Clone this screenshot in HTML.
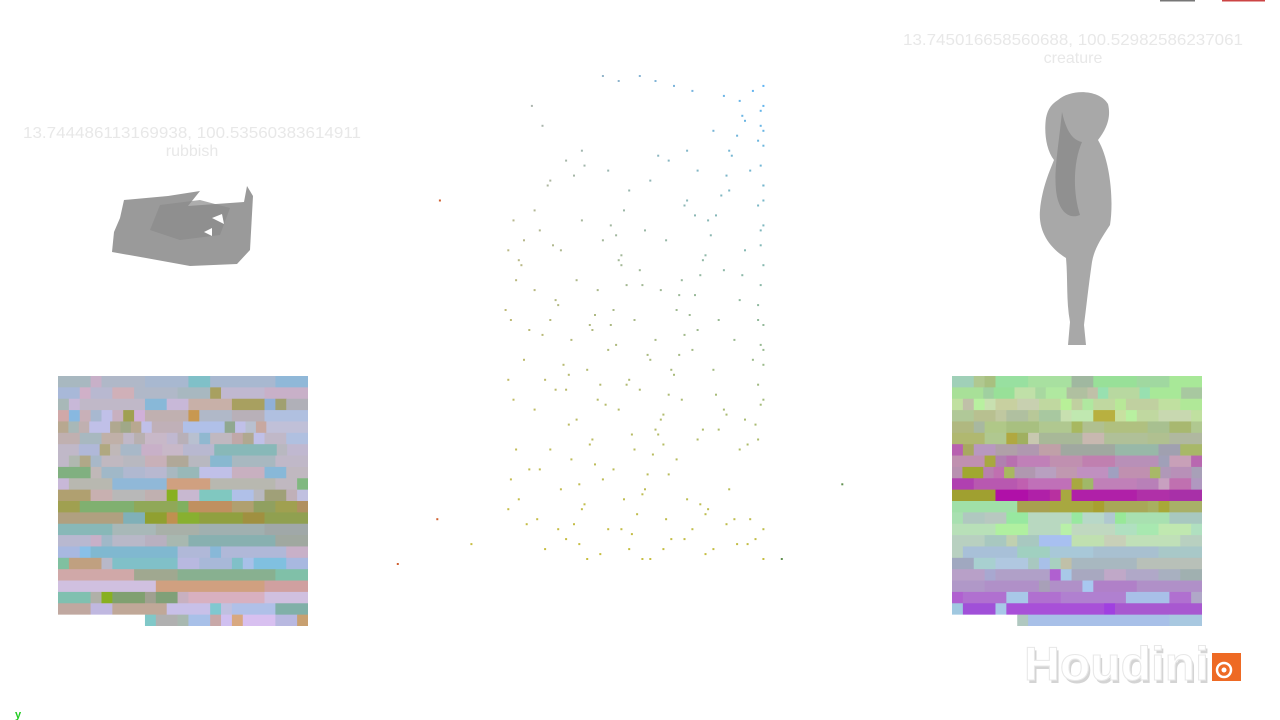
<!DOCTYPE html>
<html><head><meta charset="utf-8"><style>
html,body{margin:0;padding:0;background:#fff;width:1280px;height:720px;overflow:hidden;font-family:"Liberation Sans",sans-serif}
svg{position:absolute;left:0;top:0}
</style></head><body>
<svg width="1280" height="720">
<defs>
<clipPath id="clipL"><rect x="58" y="376" width="250" height="250"/></clipPath>
<clipPath id="clipR"><rect x="952" y="376" width="250" height="250"/></clipPath>
</defs>
<rect x="1160" y="0" width="35" height="1.5" fill="#777"/>
<rect x="1222" y="0" width="43" height="1.5" fill="#c44"/>
<g fill="#e8e8e8" font-size="16" text-anchor="middle">
<text x="192" y="138" textLength="338" lengthAdjust="spacingAndGlyphs">13.744486113169938, 100.53560383614911</text>
<text x="192" y="156">rubbish</text></g>
<g fill="#e8e8e8" font-size="16" text-anchor="middle">
<text x="1073" y="45" textLength="340" lengthAdjust="spacingAndGlyphs">13.745016658560688, 100.52982586237061</text>
<text x="1073" y="63">creature</text></g>
<g>
<polygon points="124,200 168,196 200,191 188,206 244,202 247,186 253,196 250,250 237,264 190,266 146,258 112,252 114,232 120,218" fill="#9a9a9a"/>
<polygon points="160,205 200,200 230,208 220,235 180,240 150,230" fill="#8a8a8a" opacity=".7"/>
<polygon points="212,218 222,214 224,224" fill="#fff"/>
<polygon points="204,232 212,228 212,236" fill="#fff"/>
</g>
<g>
<path d="M1058,100 C1072,88 1100,90 1108,104 C1112,120 1104,132 1098,140 C1110,160 1114,200 1110,225 C1100,240 1094,250 1092,262 C1088,290 1086,310 1084,325 L1086,345 L1068,345 L1070,322 C1066,300 1068,280 1066,258 C1050,248 1038,232 1040,210 C1042,188 1050,170 1054,160 C1046,150 1044,132 1046,118 C1048,108 1052,104 1058,100 Z" fill="#a8a8a8"/>
<path d="M1062,112 C1066,130 1072,140 1082,142 C1074,160 1072,190 1080,215 C1068,220 1058,210 1056,190 C1054,170 1058,150 1062,112Z" fill="#909090"/>
</g>
<g id="left-grid" clip-path="url(#clipL)"></g>
<g id="right-grid" clip-path="url(#clipR)"></g>
<g id="scatter"></g>
<g>
<text x="1024" y="680" font-size="47" font-weight="bold" fill="#d4d4d4" transform="translate(2,3)" textLength="185" lengthAdjust="spacingAndGlyphs">Houdini</text>
<text x="1024" y="680" font-size="47" font-weight="bold" fill="#fff" stroke="#e8e8e8" stroke-width="1" textLength="185" lengthAdjust="spacingAndGlyphs">Houdini</text>
<rect x="1212" y="653" width="29" height="28" fill="#ee6a24"/>
<circle cx="1224" cy="670" r="7" fill="none" stroke="#fff" stroke-width="2.5"/>
<circle cx="1224" cy="670" r="2.5" fill="#fff"/>
</g>
<text x="15" y="718" font-size="11" font-weight="bold" fill="#2c2">y</text>
</svg>
<script>
// Heatmap rows: run-length [color, count], 23 columns per row
const leftRows=[
[["#a8b8c0",3],["#c8b0c8",1],["#b0b8c8",4],["#a8b8d0",4],["#80c0c8",2],["#a8b8d0",6],["#90b8d8",3]],
[["#a8b8d8",2],["#d0b0c8",1],["#b8b8d0",2],["#d0b0b8",2],["#b0b8c8",4],["#a8b8c0",3],["#a8a060",1],["#c0b8d0",4],["#c8b0c8",4]],
[["#a8b8b8",1],["#c8b8d8",1],["#c0b8c8",6],["#88b8d8",2],["#c8b8d8",2],["#c8b0a8",4],["#a8a060",3],["#90b0d8",1],["#a0a070",1],["#b0b0b8",2]],
[["#d0a8a8",1],["#88b8e0",1],["#c8b0b8",1],["#a8b8d0",1],["#c0c0e8",1],["#c8b0c0",1],["#a0a050",1],["#d0b0d8",1],["#c0b0b0",4],["#c89850",1],["#b0b8c8",3],["#b8b0b8",3],["#b0c0e0",4]],
[["#b8a890",1],["#a8b8b8",1],["#c0b0b0",1],["#c0c0e8",2],["#b0a890",1],["#a0a888",1],["#b8a890",1],["#c0c0e8",1],["#c0b0b8",3],["#b0c0e8",4],["#90a890",1],["#c0c0e8",1],["#b8c0d0",1],["#c8a8a0",1],["#c0c0d8",4]],
[["#c0b0b0",2],["#a8b8c0",2],["#c0b0a8",2],["#c0b8c8",1],["#b8b0b0",1],["#c8b8c8",2],["#c0b8d0",1],["#b8b0b8",1],["#b8c0d0",1],["#90b8d0",1],["#c0b8c0",2],["#c0a8a8",1],["#b0a890",1],["#c0c0e8",1],["#c0b8c8",2],["#b0c0e0",2]],
[["#c0b8c8",2],["#b0b8d8",2],["#b0a880",1],["#c0b8b8",1],["#a8b8c8",2],["#c8b0c8",2],["#c8b8c8",2],["#b8b8d0",3],["#88b8b8",6],["#b8b8c0",1],["#c0b8d0",2]],
[["#c0b8c8",1],["#b0b8b0",1],["#b0a888",1],["#a8b8c8",1],["#c0b8c0",2],["#b8b8c0",2],["#c8b0b8",2],["#b0a898",2],["#b8b8c0",2],["#88b8d0",2],["#a8b8c0",4],["#c0b8c8",3]],
[["#80b080",3],["#c0b8b8",1],["#a0b8c8",2],["#b0b8d0",2],["#b8b8d0",2],["#a8b8c0",1],["#98b8b8",2],["#c0c0e8",3],["#c8b0c0",3],["#88b8d8",2],["#c0b8c0",2]],
[["#c8b8d8",1],["#b8b8b0",4],["#90b8d8",5],["#d0a080",4],["#b8b8b0",6],["#c0b8c0",2],["#80b880",1]],
[["#b0a070",3],["#c8b0b0",2],["#b8b8b8",3],["#c0b0b0",2],["#88b020",1],["#c8b8d0",2],["#80c8c0",3],["#b0c0e8",2],["#b8b8c0",1],["#a0a078",2],["#c0b0b8",1],["#c0c0e0",1]],
[["#a0a050",2],["#80b070",5],["#90a858",4],["#80b060",1],["#c09060",4],["#b0a070",2],["#90a060",2],["#a0a050",2],["#b09060",1]],
[["#b0a080",6],["#80b0b8",2],["#90a030",2],["#c09050",1],["#88b030",2],["#90a040",4],["#a09040",2],["#90a050",4]],
[["#88b8b8",5],["#a8b8b8",4],["#a8b0a8",4],["#a0b0b0",6],["#a0a8a8",4]],
[["#b8b8d0",3],["#c8b0c8",1],["#a0b8c8",1],["#b8b8c8",3],["#b8b0c0",2],["#a8b8b0",2],["#88b0b0",8],["#a0a8a0",3]],
[["#a8b8e0",2],["#88c0e8",1],["#80b8d0",8],["#b0b8d8",3],["#88b8d8",1],["#b0b8d8",6],["#c8b0c8",2]],
[["#80c0a0",1],["#c0a080",3],["#b8b8c8",1],["#80c0c8",6],["#b8b8e0",2],["#a8b8d8",3],["#80c0c8",1],["#a8c0e8",1],["#80c0e0",3],["#a8b8e0",2]],
[["#d0a8a8",7],["#a0a890",4],["#88b090",9],["#80c0a8",3]],
[["#d0c0e0",9],["#d0a080",10],["#d0a0a0",4]],
[["#80c0b0",3],["#b0b0a8",1],["#88b020",1],["#80a070",3],["#a0a090",1],["#80a078",2],["#c8b0c0",1],["#d8b0c0",7],["#d0c0e0",4]],
[["#c0a8a0",3],["#c0b8e0",2],["#c0a898",5],["#c8c0e8",4],["#80c8d0",1],["#c0c0e0",1],["#b0c0e8",4],["#80b0a8",3]],
[["#fff",8],["#80c8c8",1],["#b0b0b0",2],["#a8b8b0",1],["#a8c0e8",2],["#c8a8a8",1],["#d0c0f0",1],["#d8a880",1],["#d8c0f0",3],["#b8b8e0",2],["#c8a070",1]]
];
const rightRows=[
[["#a0d0b8",2],["#b0c890",1],["#a8c080",1],["#98e0a0",3],["#a8e0a0",4],["#a0b8a0",2],["#98e098",4],["#a0d8a0",3],["#a8e898",3]],
[["#a8e098",3],["#a0d0a0",1],["#98e098",2],["#c0e0a8",2],["#a8d8a0",1],["#b0e8a0",2],["#b0c0a0",2],["#c0c0a8",1],["#98e0b0",1],["#b8d8a0",3],["#98e0b0",1],["#a8e898",3],["#a8c8a0",2]],
[["#c0e0a0",1],["#c0c0a8",1],["#b8f0a0",1],["#c8e0b0",1],["#c8d0a0",2],["#c8d0b0",2],["#c0d8a0",2],["#b8f098",1],["#c0d0a0",1],["#b0e8a0",1],["#c0d8a0",2],["#b8e898",1],["#c0d0a0",3],["#c0e0a0",2],["#b0e898",2]],
[["#b0c898",2],["#b8c090",2],["#c0c8a0",1],["#b0c0a0",2],["#b8c898",1],["#a8c8a0",2],["#c8e0b0",1],["#c0e8b0",2],["#b8b040",2],["#c8e0a0",1],["#b8f0a0",1],["#c0d8a0",2],["#c8d8b0",3],["#c0e0a0",1]],
[["#b0b880",2],["#a8b8a0",1],["#b0c888",2],["#a8c080",3],["#b0c890",3],["#a8b860",1],["#b0c090",2],["#b0c080",4],["#a8c090",2],["#a8b870",2],["#b0c890",1]],
[["#b0b870",3],["#b0c890",2],["#b0a840",1],["#a0b060",1],["#c8c8b0",1],["#a8b898",4],["#c8b8b0",2],["#b0c098",4],["#b0c090",2],["#b0b8a0",3]],
[["#b860b0",1],["#a8a860",1],["#b898c0",2],["#b0a0a8",2],["#b098b0",2],["#c0a0a8",2],["#a0a8a0",5],["#98b8a8",4],["#a0a0b0",2],["#a8b868",2]],
[["#c090b0",3],["#a8a840",1],["#b080b0",1],["#b870b0",1],["#c080b8",3],["#c090b0",3],["#c080b0",3],["#b890b8",4],["#a0a0b8",1],["#c8a0b8",2],["#b868b0",1]],
[["#b890b0",1],["#a0a830",2],["#b880b0",1],["#c070b0",1],["#a8b860",1],["#b098b0",2],["#b8a0c0",2],["#c098b0",2],["#c090c0",3],["#a0a0c0",1],["#c090b0",3],["#a8b868",1],["#b098b8",1],["#b890b8",2],["#a8a0b8",1]],
[["#b040b0",2],["#b858b0",4],["#c060b0",1],["#c070b8",4],["#a8a840",1],["#a0b868",1],["#c080b8",4],["#b880b8",2],["#c8a0c0",1],["#c070b0",2],["#b098c0",1]],
[["#a0a030",4],["#b010a8",3],["#b020a8",2],["#b830a0",1],["#a8a840",1],["#b020a8",6],["#b030a8",3],["#a830a8",3]],
[["#a0e0a8",6],["#a8a050",3],["#a8a840",4],["#a8a030",1],["#a8a858",4],["#a8b060",1],["#a8a838",1],["#a8b068",3]],
[["#a8e0b0",1],["#b0c8c0",2],["#b8c8c0",2],["#98e8a0",2],["#b8d8c0",4],["#98e8a0",1],["#b8d8c8",2],["#b0c8d0",1],["#98e898",1],["#a8e0b0",4],["#a8c8c0",3]],
[["#b8e0b8",4],["#b0f0a0",3],["#b8d8c0",3],["#b8f0a8",1],["#c0d8c0",4],["#b0e0c0",2],["#a8e8b0",2],["#c0e8b0",3],["#b0e0c0",1]],
[["#b8d0c0",3],["#a8c8c0",2],["#c0d0b0",1],["#a8c8c0",2],["#a8c0f0",3],["#c0e0b0",3],["#c8d0b8",2],["#c0e0b8",5],["#b8d0c0",2]],
[["#b8d0c0",1],["#a8c0d8",5],["#a0d0c0",3],["#a8c8d8",4],["#a8c0d0",6],["#a8c8c8",4]],
[["#a0a8c0",2],["#a8d0d0",2],["#b0c8e0",3],["#a8c8c0",1],["#a8c0e8",1],["#a8d0c0",1],["#c0c0a8",1],["#a8b8c0",6],["#b8c0b8",6]],
[["#b8a0c8",3],["#a8a8d0",1],["#b0a0c8",5],["#b060d0",1],["#a8c8e8",1],["#a8a8c0",3],["#c0a8c8",2],["#b0a8c8",3],["#a8b0c0",2],["#a0b0b0",2]],
[["#b098c8",3],["#b090c8",5],["#a8a0b8",1],["#b090c8",3],["#a8c8f0",1],["#b080c8",4],["#b090c8",6]],
[["#b060d0",1],["#b070d0",4],["#a8c8e8",2],["#b070d0",3],["#b080d0",6],["#a8c0e8",4],["#b070d0",2],["#b0a8c8",1]],
[["#a0c8e0",1],["#a050d8",3],["#a8c8e8",1],["#a850d8",9],["#a040e0",1],["#a858d0",8]],
[["#fff",6],["#b0c8c0",1],["#a8c0e8",13],["#a8c8e0",3]]
];
// Point cloud data in normalised units (x: 0..100 left->right, y: 0..100 bottom->top)
const cloudX=[38,44,52,58,65,72,84,90,95,98,99,97,92,86,80,74,70,63,56,48,40,30,24,18,12,8,4,2,6,14,22,30,38,46,54,62,70,78,86,94,99,98,92,84,76,68,60,52,44,36,28,20,12,5,1,3,10,18,26,34,42,50,58,66,74,82,90,97,99,95,88,80,72,64,56,48,40,32,24,16,8,2,4,12,20,28,36,44,52,60,68,76,84,92,99,97,90,82,74,66,58,50,42,34,26,18,10,3,6,14,22,30,38,46,54,62,70,78,86,94,99,96,88,80,72,64,56,48,40,32,24,16,9,2,5,13,21,29,37,45,53,61,69,77,85,93,99,-40,-25,106,129,-12,-24,
99,99,99,98,99,98,99,97,99,98,99,98,97,99,98,99,97,98,96,93,91,89,87,85,83,81,79,77,75,73,71,69,67,65,63,61,59,57,55,53,51,49,47,45,43,41,39,37,35,33,31,29,27,25,23,21,19,17,15,11,7,33,47,61,75,89,55,67,43,27,15,81,91,73,59,45,35,25,49,63,77,85,53,41,31,69];
const cloudY=[99,98,99,98,97,96,95,94,96,92,88,86,90,84,88,80,84,82,78,76,80,84,82,78,72,66,70,64,62,68,64,70,66,72,68,66,74,70,76,80,74,68,64,60,62,58,56,60,62,56,58,54,56,58,52,50,48,50,46,48,52,50,46,52,48,50,54,50,44,42,46,40,44,40,42,38,44,40,36,38,42,38,34,32,36,30,34,32,36,30,34,28,32,30,34,26,24,28,26,22,28,24,20,26,22,24,20,18,14,20,16,12,18,14,16,10,14,12,16,10,8,6,10,4,8,6,2,4,8,2,6,4,9,12,24,10,8,5,3,8,2,4,6,3,9,5,2,1,10,2,17,5,74,77,
97,93,89,85,81,77,73,69,65,61,57,53,49,45,41,37,33,29,25,91,87,83,79,75,71,67,63,59,55,51,47,43,39,35,31,27,23,19,15,11,7,57,61,45,49,33,37,21,25,13,17,9,29,41,53,65,77,89,93,61,49,37,25,13,5,43,55,67,79,47,35,59,71,83,63,51,39,27,19,11,31,57,69,81,73,45];
function mk(tag,parent){const e=document.createElementNS("http://www.w3.org/2000/svg",tag);parent.appendChild(e);return e;}
function drawGrid(id,rows,x0,y0,w,h){
  const g=document.getElementById(id);const ch=h/rows.length;
  rows.forEach((row,r)=>{
    const total=row.reduce((s,q)=>s+q[1],0);const cw=w/total;let c=0;
    row.forEach(([col,n])=>{
    const rc=mk("rect",g);
    
    
    rc.setAttribute("x",(x0+c*cw).toFixed(2));rc.setAttribute("y",(y0+r*ch).toFixed(2));
    rc.setAttribute("width",(n*cw+0.4).toFixed(2));rc.setAttribute("height",(ch+0.4).toFixed(2));
    rc.setAttribute("fill",col);c+=n;});});
}
drawGrid("left-grid",leftRows,58,376,250,250);
drawGrid("right-grid",rightRows,952,376,250,250);
const sx=v=>502+v*2.63, sy=v=>568-v*4.98;
function colorAt(x,y){
  const t=Math.max(0,Math.min(1,y/100)), u=Math.max(0,Math.min(1,x/100));
  const r=Math.round(200-90*t*u-20*t), g=Math.round(190-10*t), b=Math.round(60+190*t*(0.6+0.4*u));
  return `rgb(${r},${g},${b})`;
}
const sc=document.getElementById("scatter");
cloudX.forEach((x,i)=>{
  const y=cloudY[i];const p=mk("rect",sc);
  
  
  p.setAttribute("x",sx(x).toFixed(1));p.setAttribute("y",sy(y).toFixed(1));
  p.setAttribute("width",2);p.setAttribute("height",2);
  let c=colorAt(x,y); if(x<-20)c="#d06030"; if(x>100)c="#609050";
  p.setAttribute("fill",c);
});
</script>
</body></html>
